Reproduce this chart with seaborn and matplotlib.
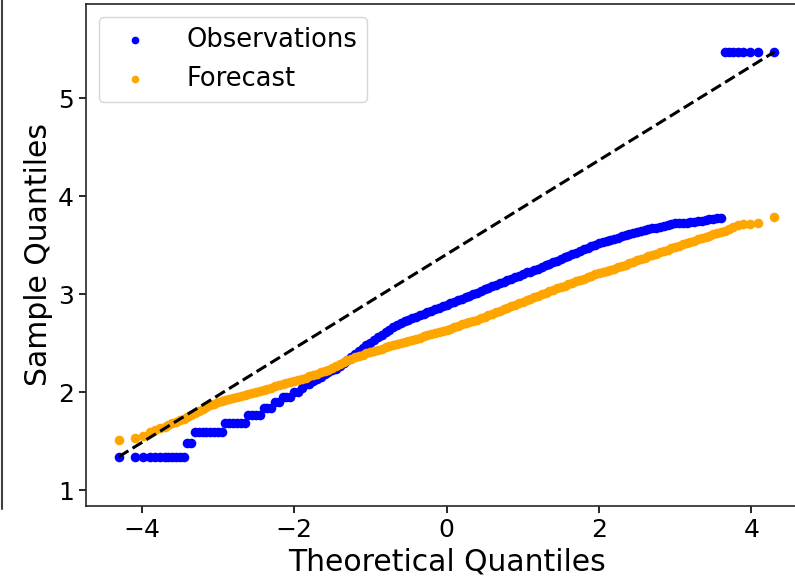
import matplotlib
matplotlib.use("Agg")
import matplotlib.pyplot as plt
from matplotlib.lines import Line2D
import seaborn as sns

# theoretical quantiles (shared by both series)
theoretical = [
    -4.30, -4.09, -3.98, -3.89, -3.82, -3.76, -3.70, -3.65, -3.60, -3.55, -3.50, -3.45,
    -3.40, -3.35, -3.30, -3.25, -3.20, -3.15, -3.10, -3.05, -3.00, -2.95,
    -2.90, -2.85, -2.80, -2.75, -2.70, -2.65, -2.60, -2.55, -2.50, -2.45,
    -2.40, -2.35, -2.30, -2.25, -2.20, -2.15, -2.10, -2.05, -2.00, -1.95,
    -1.90, -1.85, -1.80, -1.75, -1.70, -1.65, -1.60, -1.55, -1.50, -1.45,
    -1.40, -1.35, -1.30, -1.25, -1.20, -1.15, -1.10, -1.05, -1.00, -0.95,
    -0.90, -0.85, -0.80, -0.75, -0.70, -0.65, -0.60, -0.55, -0.50, -0.45,
    -0.40, -0.35, -0.30, -0.25, -0.20, -0.15, -0.10, -0.05, 0.00, 0.05,
    0.10, 0.15, 0.20, 0.25, 0.30, 0.35, 0.40, 0.45, 0.50, 0.55,
    0.60, 0.65, 0.70, 0.75, 0.80, 0.85, 0.90, 0.95, 1.00, 1.05,
    1.10, 1.15, 1.20, 1.25, 1.30, 1.35, 1.40, 1.45, 1.50, 1.55,
    1.60, 1.65, 1.70, 1.75, 1.80, 1.85, 1.90, 1.95, 2.00, 2.05,
    2.10, 2.15, 2.20, 2.25, 2.30, 2.35, 2.40, 2.45, 2.50, 2.55,
    2.60, 2.65, 2.70, 2.75, 2.80, 2.85, 2.90, 2.95, 3.00, 3.05,
    3.10, 3.15, 3.20, 3.25, 3.30, 3.35, 3.40,
    3.45, 3.50, 3.55, 3.60, 3.65, 3.70, 3.76, 3.82, 3.89, 3.98, 4.09, 4.30,
]

observations = [
    1.34, 1.34, 1.34, 1.34, 1.34, 1.34, 1.34, 1.34, 1.34, 1.34, 1.34, 1.34,
    1.48, 1.48, 1.59, 1.59, 1.59, 1.59, 1.59, 1.59, 1.59, 1.59,
    1.68, 1.68, 1.68, 1.68, 1.68, 1.68, 1.77, 1.77, 1.77, 1.77,
    1.84, 1.84, 1.84, 1.90, 1.90, 1.95, 1.95, 1.95, 2.00, 2.00,
    2.04, 2.08, 2.08, 2.11, 2.13, 2.15, 2.18, 2.20, 2.22, 2.24,
    2.27, 2.30, 2.33, 2.36, 2.39, 2.42, 2.45, 2.48, 2.50, 2.53,
    2.56, 2.58, 2.61, 2.63, 2.66, 2.68, 2.70, 2.72, 2.74, 2.76,
    2.77, 2.79, 2.80, 2.82, 2.83, 2.85, 2.86, 2.88, 2.89, 2.91,
    2.92, 2.94, 2.95, 2.97, 2.98, 3.00, 3.01, 3.03, 3.05, 3.06,
    3.08, 3.09, 3.11, 3.12, 3.14, 3.15, 3.17, 3.18, 3.20, 3.22,
    3.23, 3.25, 3.26, 3.28, 3.30, 3.31, 3.33, 3.34, 3.36, 3.38,
    3.39, 3.41, 3.42, 3.44, 3.46, 3.47, 3.49, 3.50, 3.52, 3.53,
    3.54, 3.55, 3.56, 3.57, 3.59, 3.60, 3.61, 3.62, 3.63, 3.64,
    3.65, 3.66, 3.67, 3.67, 3.68, 3.69, 3.70, 3.71, 3.72, 3.72,
    3.73, 3.73, 3.74, 3.74, 3.75, 3.75, 3.76,
    3.77, 3.77, 3.78, 3.78, 5.47, 5.47, 5.47, 5.47, 5.47, 5.47, 5.47, 5.47,
]

forecast = [
    1.51, 1.53, 1.55, 1.59, 1.61, 1.63, 1.64, 1.66, 1.68, 1.69, 1.71, 1.73,
    1.75, 1.77, 1.79, 1.81, 1.83, 1.85, 1.87, 1.88, 1.90, 1.91,
    1.92, 1.93, 1.94, 1.95, 1.96, 1.97, 1.98, 1.99, 2.00, 2.01,
    2.02, 2.03, 2.04, 2.06, 2.07, 2.08, 2.09, 2.10, 2.11, 2.12,
    2.13, 2.14, 2.16, 2.17, 2.18, 2.20, 2.21, 2.23, 2.25, 2.27,
    2.29, 2.31, 2.33, 2.34, 2.36, 2.37, 2.38, 2.40, 2.41, 2.42,
    2.43, 2.44, 2.46, 2.47, 2.48, 2.49, 2.50, 2.51, 2.52, 2.53,
    2.54, 2.55, 2.57, 2.58, 2.59, 2.60, 2.61, 2.62, 2.63, 2.64,
    2.66, 2.67, 2.69, 2.70, 2.71, 2.73, 2.74, 2.76, 2.77, 2.79,
    2.80, 2.82, 2.83, 2.85, 2.86, 2.88, 2.89, 2.91, 2.92, 2.94,
    2.95, 2.97, 2.98, 3.00, 3.01, 3.03, 3.04, 3.06, 3.07, 3.08,
    3.10, 3.11, 3.13, 3.14, 3.15, 3.17, 3.18, 3.20, 3.21, 3.22,
    3.24, 3.25, 3.26, 3.28, 3.29, 3.30, 3.32, 3.33, 3.35, 3.36,
    3.37, 3.39, 3.40, 3.41, 3.43, 3.44, 3.45, 3.47, 3.48, 3.49,
    3.51, 3.52, 3.53, 3.54, 3.56, 3.57, 3.58,
    3.59, 3.61, 3.62, 3.63, 3.64, 3.66, 3.68, 3.70, 3.71, 3.71, 3.72, 3.79,
]

# reference line end points
ref_x = [-4.30, 4.30]
ref_y = [1.34, 5.47]

sns.set_style("ticks")
plt.rcParams["font.family"] = ["DejaVu Sans"]
plt.rcParams["text.color"] = "black"
plt.rcParams["axes.labelcolor"] = "black"

fig = plt.figure(figsize=(7.95, 5.86), dpi=100)
ax = fig.add_axes([0.1082, 0.1365, 0.9069, 0.8567])

sns.scatterplot(x=theoretical, y=observations, color="blue", s=48, linewidth=0,
                label="Observations", ax=ax, zorder=2)
sns.scatterplot(x=theoretical, y=forecast, color="orange", s=48, linewidth=0,
                label="Forecast", ax=ax, zorder=3)
sns.lineplot(x=ref_x, y=ref_y, color="black", linestyle="--", linewidth=2.2,
             ax=ax, zorder=4)

ax.set_xlim(-4.73, 4.73)
ax.set_ylim(0.837, 5.96)
ax.set_xticks([-4, -2, 0, 2, 4])
ax.set_yticks([1, 2, 3, 4, 5])
ax.tick_params(labelsize=18, length=5, width=1.2, colors="black")
for sp in ax.spines.values():
    sp.set_linewidth(1.2)
    sp.set_color("0.15")

ax.set_xlabel("Theoretical Quantiles", fontsize=21.5)
ax.set_ylabel("Sample Quantiles", fontsize=21.5)
ax.legend(loc="upper left", fontsize=18.5, markerscale=0.8, handletextpad=1.0)

# stray border at the left edge of the original crop
fig.add_artist(Line2D([0.002, 0.002], [0.132, 1.0], transform=fig.transFigure,
                      color="0.25", linewidth=1.5))

fig.savefig("out.png", dpi=100)
